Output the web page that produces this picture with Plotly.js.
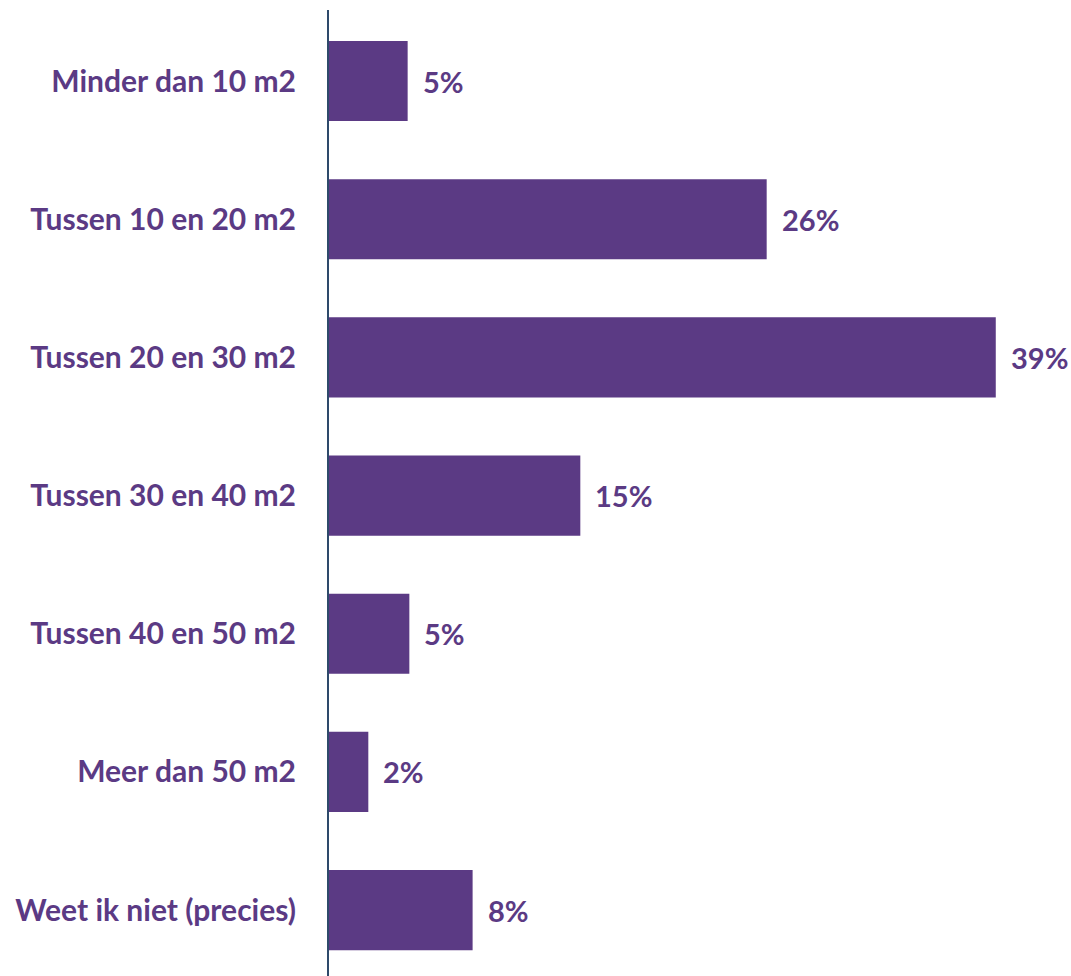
<!DOCTYPE html>
<html><head><meta charset="utf-8">
<script src="https://cdn.plot.ly/plotly-3.0.1.min.js"></script>
<style>html,body{margin:0;padding:0;background:#fff}#chart{width:1071px;height:976px}</style>
</head><body><div id="chart"></div>
<script>
const categories = ["Minder dan 10 m2","Tussen 10 en 20 m2","Tussen 20 en 30 m2","Tussen 30 en 40 m2","Tussen 40 en 50 m2","Meer dan 50 m2","Weet ik niet (precies)"];
const values = [4.6, 25.6, 39.0, 14.7, 4.7, 2.3, 8.4];
const valueLabels = ["5%","26%","39%","15%","5%","2%","8%"];

const purple = "#5B3A84";
const font = "Lato, 'Open Sans', sans-serif";

const annotations = categories.map((c, i) => ({
  x: values[i], y: c, xref: 'x', yref: 'y', text: '<b>' + valueLabels[i] + '</b>',
  showarrow: false, xanchor: 'left', yanchor: 'middle', xshift: 13,
  font: {family: font, size: 29, color: purple}
}));

Plotly.newPlot('chart', [{
  type: 'bar', orientation: 'h', x: values, y: categories,
  marker: {color: purple}, hoverinfo: 'none'
}], {
  width: 1071, height: 976,
  margin: {l: 329, r: 0, t: 10, b: 0},
  bargap: 0.42,
  paper_bgcolor: '#fff', plot_bgcolor: '#fff',
  showlegend: false,
  xaxis: {range: [0, 43.4], visible: false, fixedrange: true},
  yaxis: {range: [6.477, -0.514], showline: true, linecolor: '#2E4A6B', linewidth: 2,
    ticks: 'outside', ticklen: 25, tickcolor: 'rgba(0,0,0,0)', showgrid: false, zeroline: false,
    tickfont: {family: font, size: 30, color: purple, weight: 'bold'}},
  annotations: annotations
}, {staticPlot: true});
</script></body></html>
